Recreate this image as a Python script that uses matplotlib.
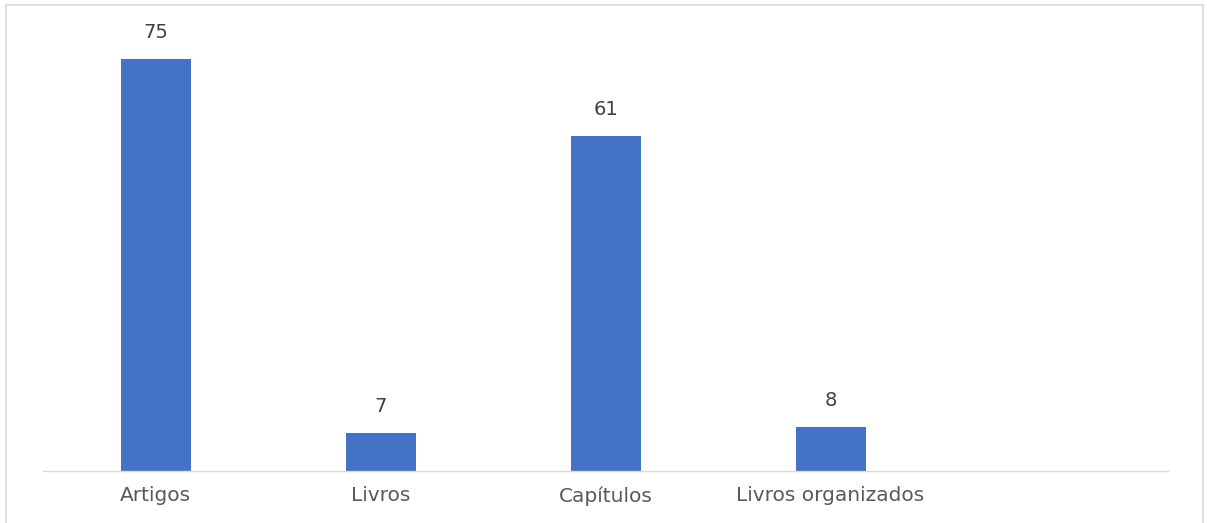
import matplotlib
matplotlib.use("Agg")
from matplotlib import pyplot as plt
from matplotlib.patches import Rectangle
import numpy as np

plt.rcParams['font.family'] = ['DejaVu Sans']

categories = ["Artigos", "Livros", "Capítulos", "Livros organizados", ""]
values = [75, 7, 61, 8, None]

W, H = 1207, 523
fig = plt.figure(figsize=(W / 100, H / 100), dpi=100)
ax = fig.add_axes([43.2 / W, (H - 471) / H, (1168 - 43.2) / W, (471 - 31.7) / H])

x = np.arange(len(categories))
shown = [i for i, v in enumerate(values) if v is not None]
bars = ax.bar([x[i] for i in shown], [values[i] for i in shown], width=0.311, color="#4472C4")

for i in shown:
    ax.annotate(str(values[i]), (x[i], values[i]), xytext=(0, 12), textcoords="offset points",
                ha="center", va="bottom", fontsize=14, color="#404040")

ax.set_xlim(-0.5, len(categories) - 0.5)
ax.set_ylim(0, 80)
ax.set_xticks(x)
ax.set_xticklabels(categories, fontsize=14.5, color="#595959")
ax.tick_params(axis="x", length=0, pad=11)
ax.set_yticks([])
for s in ["top", "left", "right"]:
    ax.spines[s].set_visible(False)
ax.spines["bottom"].set_color("#d9d9d9")
ax.spines["bottom"].set_linewidth(1)

fig.patches.append(Rectangle((6 / W, -0.01), (1203 - 6) / W, 1 - 5 / H + 0.01,
                             transform=fig.transFigure, fill=False,
                             edgecolor="#d9d9d9", linewidth=1.2))

fig.savefig("out.png", dpi=100)
